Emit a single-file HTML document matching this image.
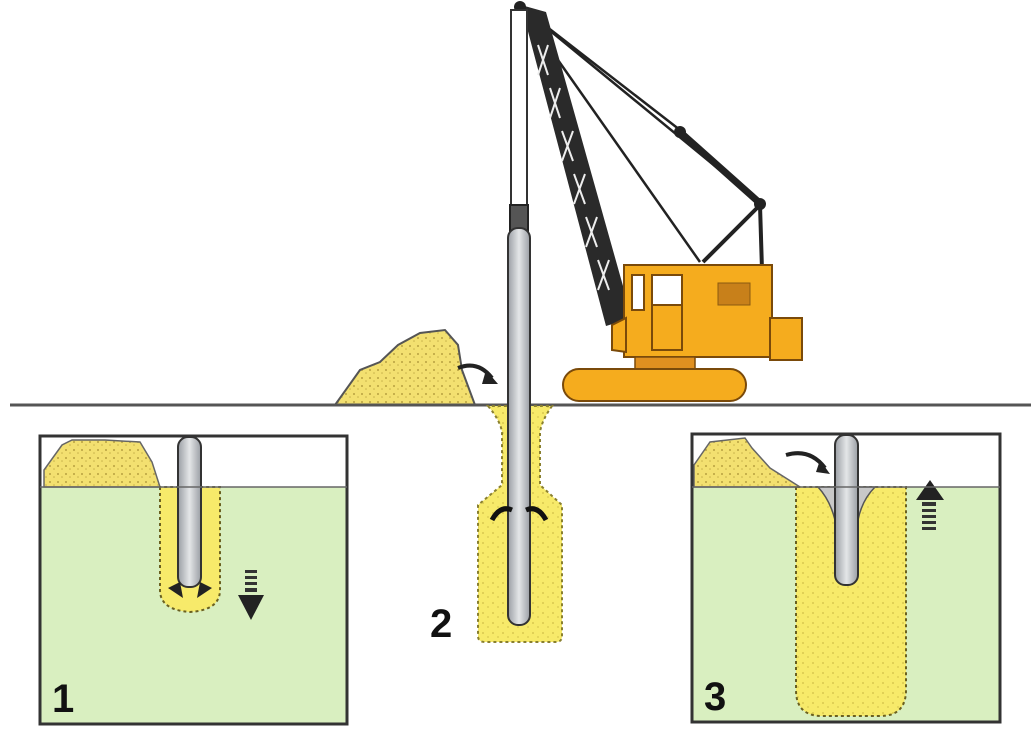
<!DOCTYPE html>
<html><head><meta charset="utf-8"><style>
html,body{margin:0;padding:0;background:#fff;}
svg{display:block;}
text{font-family:"Liberation Sans",sans-serif;font-weight:bold;}
</style></head><body>
<svg width="1031" height="737" viewBox="0 0 1031 737">
<defs>
<pattern id="sand" width="8" height="8" patternUnits="userSpaceOnUse">
<rect width="8" height="8" fill="#f3e070"/>
<circle cx="2" cy="2" r="1" fill="#b8a040"/>
<circle cx="6" cy="5" r="0.8" fill="#c9b24a"/>
</pattern>
<pattern id="fill" width="10" height="10" patternUnits="userSpaceOnUse">
<rect width="10" height="10" fill="#f7ea6a"/>
<circle cx="3" cy="3" r="1" fill="#d9c850"/>
<circle cx="8" cy="7" r="0.9" fill="#d9c850"/>
</pattern>
<linearGradient id="pipe" x1="0" x2="1">
<stop offset="0" stop-color="#9a9ea4"/><stop offset="0.5" stop-color="#e4e6e8"/><stop offset="1" stop-color="#9a9ea4"/>
</linearGradient>
</defs>

<g>
<line x1="520" y1="6" x2="760" y2="203" stroke="#222" stroke-width="2.5"/>
<line x1="520" y1="6" x2="700" y2="262" stroke="#222" stroke-width="2.5"/>
<line x1="520" y1="6" x2="680" y2="130" stroke="#222" stroke-width="2.5"/>
<line x1="680" y1="132" x2="762" y2="205" stroke="#222" stroke-width="7"/>
<line x1="760" y1="205" x2="703" y2="262" stroke="#222" stroke-width="4"/>
<line x1="760" y1="205" x2="762" y2="270" stroke="#222" stroke-width="4"/>
<polygon points="521,5 546,12 632,318 606,326" fill="#2a2a2a"/>
<g stroke="#eee" stroke-width="2" fill="none">
<path d="M538,45 l10,30 M548,45 l-10,30"/>
<path d="M550,88 l10,30 M560,88 l-10,30"/>
<path d="M562,131 l11,30 M573,131 l-11,30"/>
<path d="M574,174 l11,30 M585,174 l-11,30"/>
<path d="M586,217 l11,30 M597,217 l-11,30"/>
<path d="M598,260 l11,30 M609,260 l-11,30"/>
</g>
<circle cx="520" cy="7" r="6" fill="#222"/>
<circle cx="680" cy="132" r="6" fill="#222"/>
<circle cx="760" cy="204" r="6" fill="#222"/>
<rect x="624" y="265" width="148" height="92" fill="#f5ac1e" stroke="#7a4a0a" stroke-width="2"/>
<rect x="770" y="318" width="32" height="42" fill="#f5ac1e" stroke="#7a4a0a" stroke-width="2"/>
<path d="M612,325 L626,318 L626,352 L612,350 Z" fill="#f5ac1e" stroke="#7a4a0a" stroke-width="2"/>
<rect x="632" y="275" width="12" height="35" fill="#fff" stroke="#7a4a0a" stroke-width="2"/>
<rect x="652" y="275" width="30" height="30" fill="#fff" stroke="#7a4a0a" stroke-width="2"/>
<rect x="652" y="305" width="30" height="45" fill="none" stroke="#7a4a0a" stroke-width="2"/>
<rect x="718" y="283" width="32" height="22" fill="#c8801a" stroke="#8a5a10" stroke-width="1"/>
<rect x="635" y="357" width="60" height="12" fill="#e09020" stroke="#7a4a0a" stroke-width="1.5"/>
<rect x="563" y="369" width="183" height="32" rx="16" fill="#f5ac1e" stroke="#7a4a0a" stroke-width="2"/>
</g>

<rect x="511" y="10" width="16" height="200" fill="#fff" stroke="#333" stroke-width="2"/>
<rect x="510" y="205" width="18" height="28" fill="#555" stroke="#222" stroke-width="2"/>

<path d="M335,405 L360,370 L380,362 L398,345 L420,333 L445,330 L458,345 L462,370 L475,405 Z" fill="url(#sand)" stroke="#555" stroke-width="2"/>
<path d="M458,368 Q478,360 492,378" fill="none" stroke="#222" stroke-width="4"/>
<polygon points="486,370 498,384 482,384" fill="#222"/>

<line x1="10" y1="405" x2="1031" y2="405" stroke="#555" stroke-width="3"/>

<g>
<path d="M488,406 Q500,420 502,432 L502,485 L478,505 L478,636 Q478,642 485,642 L556,642 Q562,642 562,636 L562,505 L540,485 L540,432 Q542,420 552,406 Z" fill="url(#fill)" stroke="#8a8030" stroke-width="2" stroke-dasharray="3,3"/>
<rect x="508" y="228" width="22" height="397" rx="10" fill="url(#pipe)" stroke="#333" stroke-width="2"/>
<path d="M492,520 Q500,505 512,510" fill="none" stroke="#111" stroke-width="5"/>
<path d="M546,520 Q538,505 526,510" fill="none" stroke="#111" stroke-width="5"/>
<text x="430" y="637" font-size="40" fill="#111">2</text>
</g>

<g>
<rect x="40" y="436" width="307" height="288" fill="#fff"/>
<rect x="40" y="487" width="307" height="237" fill="#d9efc0"/>
<path d="M44,487 L44,470 L62,445 L72,440 L105,440 L140,442 L152,462 L160,487 Z" fill="url(#sand)" stroke="#666" stroke-width="1.5"/>
<path d="M160,487 L160,590 Q160,610 190,612 Q220,610 220,590 L220,487 Z" fill="#f7ea6a" stroke="#6a6020" stroke-width="2" stroke-dasharray="3,3"/>
<rect x="178" y="437" width="23" height="150" rx="10" fill="url(#pipe)" stroke="#333" stroke-width="2"/>
<path d="M168,588 L180,582 L183,598 Z" fill="#222"/>
<path d="M212,588 L200,582 L197,598 Z" fill="#222"/>
<g fill="#333"><rect x="245" y="570" width="12" height="3"/><rect x="245" y="576" width="12" height="3"/><rect x="245" y="582" width="12" height="3"/><rect x="245" y="588" width="12" height="4"/></g>
<polygon points="238,595 264,595 251,620" fill="#222"/>
<rect x="40" y="436" width="307" height="288" fill="none" stroke="#333" stroke-width="3"/>
<line x1="40" y1="487" x2="347" y2="487" stroke="#666" stroke-width="1.5"/>
<text x="52" y="712" font-size="40" fill="#111">1</text>
</g>

<g>
<rect x="692" y="434" width="308" height="288" fill="#fff"/>
<rect x="692" y="487" width="308" height="235" fill="#d9efc0"/>
<path d="M694,487 L694,465 L710,442 L745,438 L752,448 L770,468 L800,487 Z" fill="url(#sand)" stroke="#666" stroke-width="1.5"/>
<path d="M796,487 L796,690 Q796,716 822,716 L880,716 Q906,716 906,690 L906,487 Z" fill="url(#fill)" stroke="#6a6020" stroke-width="2" stroke-dasharray="3,3"/>
<path d="M818,487 Q830,500 835,520 L858,520 Q862,500 875,487 Z" fill="#c8c8c8" stroke="#555" stroke-width="1.5"/>
<rect x="835" y="435" width="23" height="150" rx="10" fill="url(#pipe)" stroke="#333" stroke-width="2"/>
<path d="M786,455 Q810,448 825,468" fill="none" stroke="#222" stroke-width="4"/>
<polygon points="820,460 830,474 816,472" fill="#222"/>
<polygon points="916,500 944,500 930,480" fill="#222"/>
<g fill="#333"><rect x="922" y="502" width="14" height="4"/><rect x="922" y="509" width="14" height="3"/><rect x="922" y="515" width="14" height="3"/><rect x="922" y="521" width="14" height="3"/><rect x="922" y="527" width="14" height="3"/></g>
<rect x="692" y="434" width="308" height="288" fill="none" stroke="#333" stroke-width="3"/>
<line x1="692" y1="487" x2="1000" y2="487" stroke="#666" stroke-width="1.5"/>
<text x="704" y="710" font-size="40" fill="#111">3</text>
</g>
</svg>
</body></html>
